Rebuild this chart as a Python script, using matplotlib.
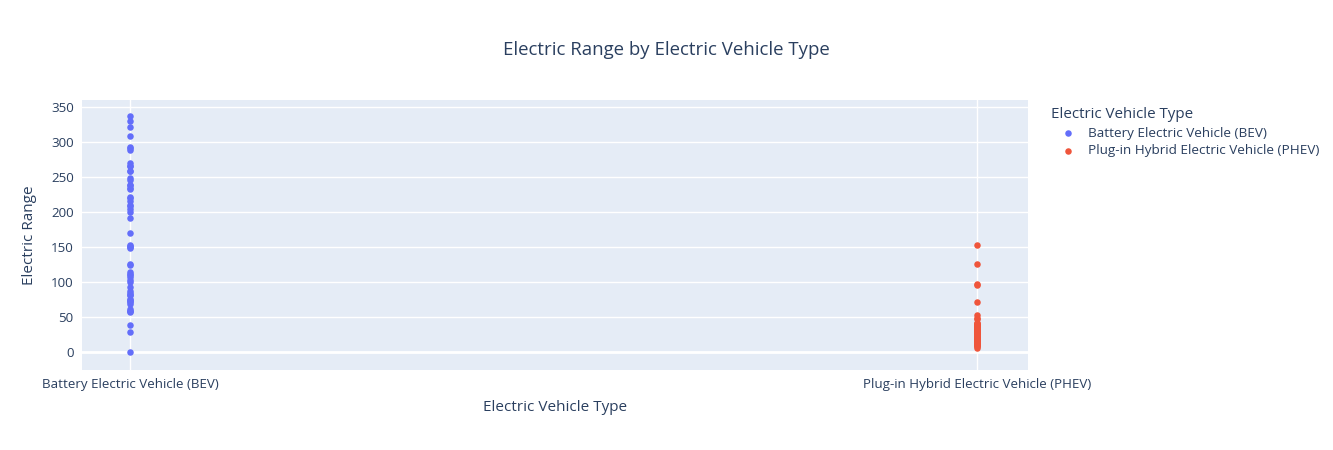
import matplotlib
matplotlib.use('Agg')
import matplotlib.pyplot as plt

plt.rcParams['font.family'] = ['Open Sans', 'DejaVu Sans']

categories = ['Battery Electric Vehicle (BEV)', 'Plug-in Hybrid Electric Vehicle (PHEV)']
bev_range = [0, 29, 39, 57, 58, 59, 62, 68, 72, 73, 74, 76, 81, 82, 84, 87, 93, 100, 103,
             107, 110, 111, 114, 124, 125, 149, 150, 151, 153, 170, 192, 200, 204, 208, 210,
             215, 220, 222, 233, 234, 238, 239, 245, 249, 258, 259, 265, 266, 270, 289, 291,
             293, 308, 322, 330, 337]
phev_range = [6, 8, 9, 10, 11, 12, 13, 14, 15, 16, 17, 18, 19, 20, 21, 22, 23, 24, 25, 26,
              27, 28, 29, 30, 31, 32, 33, 34, 35, 36, 37, 38, 39, 40, 41, 42, 47, 48, 53,
              72, 95, 97, 126, 153]

text_col = '#2a3f5f'
fig = plt.figure(figsize=(13.33, 4.5), dpi=100)
ax = fig.add_axes([0.0615, 0.178, 0.7095, 0.6])
ax.set_facecolor('#E5ECF6')

ax.scatter([categories[0]] * len(bev_range), bev_range, s=22, color='#636EFA',
           linewidths=0, label=categories[0], zorder=3)
ax.scatter([categories[1]] * len(phev_range), phev_range, s=22, color='#EF553B',
           linewidths=0, label=categories[1], zorder=3)

ax.set_xlim(-0.0567, 1.0602)
ax.set_ylim(-25.7, 360)
ax.set_yticks(range(0, 351, 50))
ax.grid(True, color='white', linewidth=1, zorder=0)
ax.axhline(0, color='white', linewidth=2, zorder=1)
ax.set_axisbelow(True)
for s in ax.spines.values():
    s.set_visible(False)
ax.tick_params(length=0, labelsize=9.6, labelcolor=text_col, pad=6)

ax.set_xlabel('Electric Vehicle Type', fontsize=11, color=text_col, labelpad=6)
ax.set_ylabel('Electric Range', fontsize=11, color=text_col, labelpad=10)
fig.text(0.5, 0.889, 'Electric Range by Electric Vehicle Type', ha='center', va='center',
         fontsize=13.4, color=text_col)

leg = ax.legend(title='Electric Vehicle Type', loc='upper left', bbox_to_anchor=(1.0174, 0.997),
                frameon=False, fontsize=9.7, title_fontsize=10.9, markerscale=1.0,
                borderpad=0, handlelength=2.5, handletextpad=0.28, labelspacing=0.36)
leg._legend_box.align = 'left'
leg._legend_box.sep = 3
for t in leg.get_texts():
    t.set_color(text_col)
leg.get_title().set_color(text_col)

fig.savefig('out.png', dpi=100)
